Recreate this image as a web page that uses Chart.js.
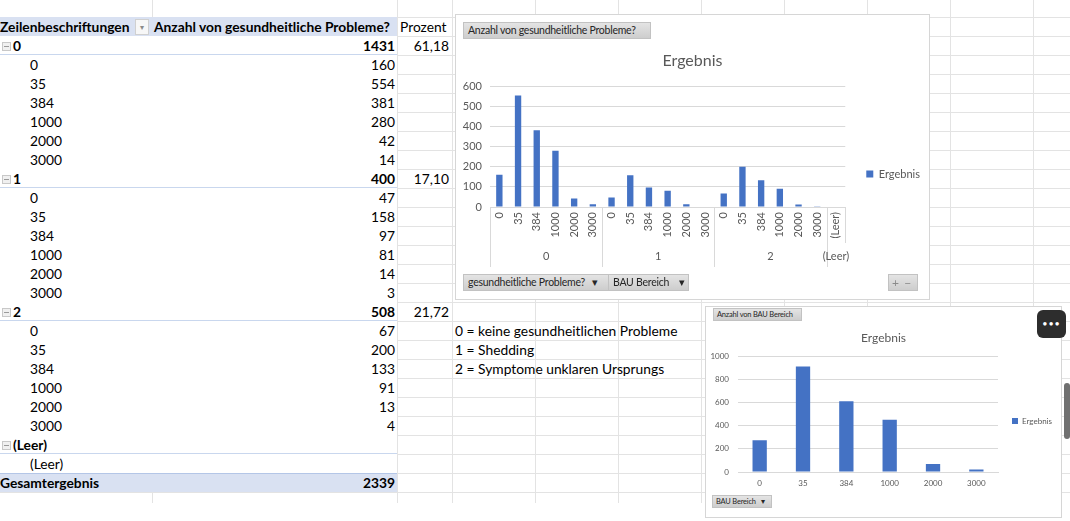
<!DOCTYPE html>
<html lang="de">
<head>
<meta charset="utf-8">
<title>Anzahl von gesundheitliche Probleme?</title>
<script src="https://cdn.jsdelivr.net/npm/chart.js@4.4.1/dist/chart.umd.min.js"></script>
<style>
html, body { margin: 0; padding: 0; }
body { width: 1070px; height: 521px; overflow: hidden; position: relative; background: #fff;
  font-family: Lato, "Noto Sans", sans-serif; color: #000; }
#raster { position: absolute; left: 0; top: 0; width: 1070px; height: 503px;
  background-image: repeating-linear-gradient(to bottom, transparent 0 17px, #e3e3e3 17px 18px, transparent 18px 19px); }
.vlinie { position: absolute; top: 0; width: 1px; height: 503px; background: #e3e3e3; }
table.pivot { position: absolute; left: 0; top: 17px; border-collapse: collapse; table-layout: fixed; font-size: 13.8px; }
table.pivot td { height: 19px; padding: 0; line-height: 19px; white-space: nowrap; overflow: hidden; }
td.a { width: 152px; background: #fff; }
td.b { width: 245px; background: #fff; text-align: right; padding-right: 2px !important; box-sizing: border-box; }
td.c { width: 55px; text-align: right; padding-right: 3px !important; box-sizing: border-box; }
tr.kopf td.a, tr.kopf td.b { background: #d9e1f2; font-weight: bold; }
tr.kopf td.b { text-align: left; padding-left: 2px !important; }
tr.kopf td.c { text-align: left; padding-left: 3px !important; }
tr.gruppe td.a, tr.gruppe td.b { font-weight: bold; box-shadow: inset 0 -1px 0 #c9d7ee; }
tr.kind td.a { padding-left: 30px !important; box-sizing: border-box; }
tr.summe td.a, tr.summe td.b { background: #d9e1f2; font-weight: bold; box-shadow: inset 0 1px 0 #b4c6e7; }
.minus { display: inline-block; width: 7px; height: 7px; border: 1px solid #c8c8c8; background: #f0f0f0;
  margin: 0 2px 0 2px; vertical-align: 0; position: relative; }
.minus::after { content: ""; position: absolute; left: 1px; right: 1px; top: 3px; height: 1px; background: #9a9a9a; }
.filter { float: right; width: 12px; height: 14px; margin: 2px 3px 0 0; border: 1px solid #d0d0d0; background: #f7f7f7;
  color: #8a8a8a; font-size: 8px; line-height: 14px; text-align: center; font-weight: normal; }
.notiz { position: absolute; left: 455px; height: 19px; line-height: 19px; font-size: 13.8px; white-space: nowrap; }
.rahmen { position: absolute; background: #fff; border: 1px solid #d6d6d6; box-sizing: border-box; }
canvas { position: absolute; }
.knopf { position: absolute; box-sizing: border-box; background: linear-gradient(#e4e4e4, #cdcdcd);
  border: 1px solid #c2c2c2; color: #262626; white-space: nowrap; overflow: hidden; padding: 0 4px; }
.k1 { height: 17px; font-size: 10.5px; line-height: 15px; letter-spacing: -0.25px; }
.k2 { height: 13px; font-size: 7.5px; line-height: 11px; letter-spacing: -0.2px; padding: 0 3px; }
#mehr { position: absolute; left: 1037px; top: 310px; width: 29px; height: 28px; border-radius: 6px; background: #2d2d2d;
  color: #fff; font-size: 9px; line-height: 28px; text-align: center; letter-spacing: 1px; }
#scroll { position: absolute; left: 1064px; top: 383px; width: 6px; height: 56px; border-radius: 3px; background: #707070; }
</style>
</head>
<body>
<div id="raster"></div>
<table class="pivot" id="pivot"></table>

<div class="rahmen" style="left:455px; top:14px; width:475px; height:286px;"></div>
<canvas id="diagramm1" width="475" height="268" style="left:455px; top:40px;"></canvas>
<div class="knopf k1" style="left:463px; top:22px; width:188px;">Anzahl von gesundheitliche Probleme?</div>
<div class="knopf k1" style="left:463px; top:274px; width:146px;">gesundheitliche Probleme?&nbsp;&nbsp;&nbsp;▾</div>
<div class="knopf k1" style="left:608px; top:274px; width:81px;">BAU Bereich&nbsp;&nbsp;&nbsp;&nbsp;▾</div>
<div class="knopf k1" style="left:888px; top:274px; width:30px; font-size:12px; color:#8a8a8a; padding:0 3px;">+&nbsp;&nbsp;−</div>

<div class="rahmen" style="left:705px; top:306px; width:357px; height:212px;"></div>
<canvas id="diagramm2" width="357" height="198" style="left:705px; top:322px;"></canvas>
<div class="knopf k2" style="left:713px; top:308px; width:89px;">Anzahl von BAU Bereich</div>
<div class="knopf k2" style="left:712px; top:495px; width:60px;">BAU Bereich&nbsp;&nbsp;&nbsp;▾</div>

<div id="mehr">•••</div>
<div id="scroll"></div>

<script>
// Werte aus der Pivot-Tabelle
const gruppen = ['0', '1', '2'];
const bauBereiche = ['0', '35', '384', '1000', '2000', '3000'];
const anzahl0 = [160, 554, 381, 280, 42, 14];
const anzahl1 = [47, 158, 97, 81, 14, 3];
const anzahl2 = [67, 200, 133, 91, 13, 4];
const gruppenSummen = [1431, 400, 508];
const prozent = ['61,18', '17,10', '21,72'];
const gesamtErgebnis = 2339;
const bauSummen = [274, 912, 611, 452, 69, 21];   // Anzahl von BAU Bereich
const yTicks1 = [0, 100, 200, 300, 400, 500, 600];
const yTicks2 = [0, 200, 400, 600, 800, 1000];
const notizen = ['0 = keine gesundheitlichen Probleme', '1 = Shedding', '2 = Symptome unklaren Ursprungs'];

const anzahlen = [anzahl0, anzahl1, anzahl2];

// Gitternetz (Spalten)
[152, 397, 452, 535, 618, 701, 784, 867, 950, 1033].forEach(x => {
    const d = document.createElement('div');
    d.className = 'vlinie';
    d.style.left = x + 'px';
    document.body.insertBefore(d, document.getElementById('pivot'));
});

// Pivot-Tabelle
const pivot = document.getElementById('pivot');
function zeile(klasse, a, b, c) {
    const tr = document.createElement('tr');
    tr.className = klasse;
    tr.innerHTML = '<td class="a">' + a + '</td><td class="b">' + b + '</td><td class="c">' + c + '</td>';
    pivot.appendChild(tr);
}
const minus = '<span class="minus"></span>';
zeile('kopf', 'Zeilenbeschriftungen<span class="filter">▾</span>', 'Anzahl von gesundheitliche Probleme?', 'Prozent');
gruppen.forEach((g, i) => {
    zeile('gruppe', minus + g, gruppenSummen[i], prozent[i]);
    bauBereiche.forEach((bau, j) => zeile('kind', bau, anzahlen[i][j], ''));
});
zeile('gruppe', minus + '(Leer)', '', '');
zeile('kind', '(Leer)', '', '');
zeile('summe', 'Gesamtergebnis', gesamtErgebnis, '');

notizen.forEach((text, i) => {
    const d = document.createElement('div');
    d.className = 'notiz';
    d.style.top = (321 + i * 19) + 'px';
    d.textContent = text;
    document.body.appendChild(d);
});

Chart.defaults.font.family = 'Lato, "Noto Sans", sans-serif';
Chart.defaults.color = '#595959';

// zweite Ebene der Kategorienachse (gesundheitliche Probleme?)
const achsenGruppen = gruppen.map(g => ({ text: g, n: bauBereiche.length })).concat([{ text: '(Leer)', n: 1 }]);
const gruppenAchse = {
    id: 'gruppenAchse',
    afterDraw(chart) {
        const x = chart.scales.x;
        const unten = chart.chartArea.bottom;
        const breite = (x.right - x.left) / chart.data.labels.length;
        const ctx = chart.ctx;
        ctx.save();
        ctx.strokeStyle = '#d9d9d9';
        ctx.lineWidth = 1;
        ctx.fillStyle = '#595959';
        ctx.font = '11px Lato, "Noto Sans", sans-serif';
        ctx.textAlign = 'center';
        ctx.textBaseline = 'middle';
        let start = 0;
        achsenGruppen.forEach(g => {
            const links = x.getPixelForTick(start) - breite / 2;
            const rechts = x.getPixelForTick(start + g.n - 1) + breite / 2;
            ctx.beginPath();
            ctx.moveTo(Math.round(links) + 0.5, unten);
            ctx.lineTo(Math.round(links) + 0.5, unten + 60);
            ctx.stroke();
            ctx.fillText(g.text, (links + rechts) / 2, unten + 49);
            start += g.n;
        });
        ctx.beginPath();
        ctx.moveTo(Math.round(x.right) + 0.5, unten);
        ctx.lineTo(Math.round(x.right) + 0.5, unten + 36);
        ctx.stroke();
        ctx.restore();
    }
};

const kategorien1 = gruppen.flatMap(() => bauBereiche).concat(['(Leer)']);
const werte1 = [].concat(anzahl0, anzahl1, anzahl2, [null]);
const ohneTausender = v => String(v);

new Chart(document.getElementById('diagramm1'), {
    type: 'bar',
    data: {
        labels: kategorien1,
        datasets: [{
            label: 'Ergebnis',
            data: werte1,
            backgroundColor: '#4472c4',
            barPercentage: 0.34,
            categoryPercentage: 1
        }]
    },
    options: {
        responsive: false,
        animation: false,
        layout: { padding: 0 },
        plugins: {
            title: { display: true, text: 'Ergebnis', color: '#595959',
                     font: { size: 16, weight: 'normal' }, padding: { top: 11, bottom: 16 } },
            legend: { position: 'right', maxWidth: 87,
                      labels: { boxWidth: 7, boxHeight: 7, padding: 21, color: '#595959', font: { size: 11 } } },
            tooltip: { enabled: false }
        },
        scales: {
            x: {
                grid: { display: false, drawTicks: false },
                border: { display: true, color: '#d9d9d9' },
                ticks: { autoSkip: false, minRotation: 90, maxRotation: 90, padding: 5, font: { size: 11 } },
                afterFit: s => { s.height = 101; }
            },
            y: {
                min: yTicks1[0],
                max: yTicks1[yTicks1.length - 1],
                ticks: { stepSize: yTicks1[1] - yTicks1[0], padding: 8, font: { size: 11 }, callback: ohneTausender },
                grid: { color: '#d9d9d9', drawTicks: false },
                border: { display: false },
                afterFit: s => { s.width = 35; }
            }
        }
    },
    plugins: [gruppenAchse]
});

new Chart(document.getElementById('diagramm2'), {
    type: 'bar',
    data: {
        labels: bauBereiche,
        datasets: [{
            label: 'Ergebnis',
            data: bauSummen,
            backgroundColor: '#4472c4',
            barPercentage: 0.33,
            categoryPercentage: 1
        }]
    },
    options: {
        responsive: false,
        animation: false,
        layout: { padding: 0 },
        plugins: {
            title: { display: true, text: 'Ergebnis', color: '#595959',
                     font: { size: 12, weight: 'normal' }, padding: { top: 9, bottom: 11 } },
            legend: { position: 'right', maxWidth: 66,
                      labels: { boxWidth: 6, boxHeight: 6, padding: 14, color: '#595959', font: { size: 8 } } },
            tooltip: { enabled: false }
        },
        scales: {
            x: {
                grid: { display: false, drawTicks: false },
                border: { display: true, color: '#d9d9d9' },
                ticks: { padding: 7, font: { size: 8 } },
                afterFit: s => { s.height = 48; }
            },
            y: {
                min: yTicks2[0],
                max: yTicks2[yTicks2.length - 1],
                ticks: { stepSize: yTicks2[1] - yTicks2[0], padding: 9, font: { size: 8 }, callback: ohneTausender },
                grid: { color: '#d9d9d9', drawTicks: false },
                border: { display: false },
                afterFit: s => { s.width = 33; }
            }
        }
    }
});
</script>
</body>
</html>
